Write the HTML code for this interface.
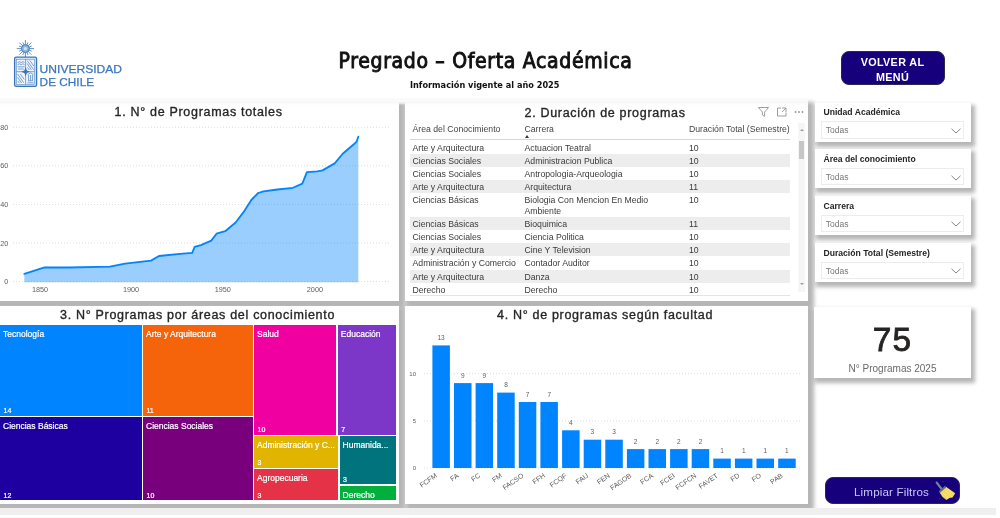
<!DOCTYPE html>
<html lang="es">
<head>
<meta charset="utf-8">
<title>Pregrado – Oferta Académica</title>
<style>
*{box-sizing:border-box;margin:0;padding:0}
html,body{width:1000px;height:518px;overflow:hidden;background:#fff}
body{position:relative;font-family:"Liberation Sans",sans-serif;color:#252423}
.abs{position:absolute}
.card{position:absolute;background:#fff;box-shadow:3.5px 4px 4px 2.5px rgba(0,0,0,.29)}/*#b8b8b8*/
.ttl{position:absolute;font-size:12.5px;color:#252423;white-space:nowrap;line-height:14px;letter-spacing:.69px;-webkit-text-stroke:.35px #2a2928}
.t{position:absolute;white-space:nowrap}
svg{position:absolute;left:0;top:0;overflow:visible}
svg text{font-family:"Liberation Sans",sans-serif}
.tb{position:absolute;font-size:8.7px;line-height:11px;color:#3a3a3a;white-space:nowrap}
.tm{position:absolute;color:#fff;font-size:8.5px;line-height:10px;-webkit-text-stroke:.2px #fff;white-space:nowrap;overflow:hidden}
.tm b{position:absolute;left:3.5px;bottom:.5px;font-weight:normal;font-size:7px;line-height:8px}
.tm span{position:absolute;left:3px;top:4px}
.sl{position:absolute;background:#fff;box-shadow:2.5px 3.5px 4px 1.5px rgba(0,0,0,.29);/*#b8b8b8*/left:815px;width:155.6px;height:39px}
.sl .h{position:absolute;left:8.5px;top:4.5px;font-size:8.6px;line-height:10px;color:#252423;font-weight:bold;white-space:nowrap}
.sl .d{position:absolute;left:6.3px;top:18.8px;width:143px;height:17.4px;border:1px solid #ececec;font-size:8.5px;line-height:16px;padding-left:3.5px;color:#777}
.sl svg{left:135.5px;top:25.3px}
</style>
</head>
<body>

<svg width="140" height="100" viewBox="0 0 140 100">
<g stroke="#3a76bc" stroke-width="1" opacity=".8"><line x1="29.60" y1="48.60" x2="34.00" y2="48.60"/><line x1="29.28" y1="50.21" x2="31.68" y2="51.20"/><line x1="28.37" y1="51.57" x2="31.48" y2="54.68"/><line x1="27.01" y1="52.48" x2="28.00" y2="54.88"/><line x1="25.40" y1="52.80" x2="25.40" y2="57.20"/><line x1="23.79" y1="52.48" x2="22.80" y2="54.88"/><line x1="22.43" y1="51.57" x2="19.32" y2="54.68"/><line x1="21.52" y1="50.21" x2="19.12" y2="51.20"/><line x1="21.20" y1="48.60" x2="16.80" y2="48.60"/><line x1="21.52" y1="46.99" x2="19.12" y2="46.00"/><line x1="22.43" y1="45.63" x2="19.32" y2="42.52"/><line x1="23.79" y1="44.72" x2="22.80" y2="42.32"/><line x1="25.40" y1="44.40" x2="25.40" y2="40.00"/><line x1="27.01" y1="44.72" x2="28.00" y2="42.32"/><line x1="28.37" y1="45.63" x2="31.48" y2="42.52"/><line x1="29.28" y1="46.99" x2="31.68" y2="46.00"/></g>
<circle cx="25.4" cy="48.6" r="4" fill="#8fb4dc" stroke="#3a76bc" stroke-width="1"/>
<circle cx="25.4" cy="48.6" r="1.6" fill="#d5e3f2"/>
<rect x="14.6" y="57.1" width="22" height="29.3" rx="1.6" fill="#d3e2f2" stroke="#3a76bc" stroke-width="1.3"/>
<rect x="16.7" y="59.3" width="17.8" height="25" fill="#f4f8fc" stroke="#3a76bc" stroke-width=".5" opacity=".9"/>
<g stroke="#3a76bc" stroke-width=".8" fill="none" opacity=".85"><path d="M25.6 59.3 V84.3 M16.7 71.7 H34.5"/><path d="M17.6 62.5 q2 -1.6 3.6 0 q1.6 -1.6 3.4 0 M17.6 64.6 q2 -1.6 3.6 0 q1.6 -1.6 3.4 0 M17.6 66.8 h7 M18.2 69 h5.6"/><path d="M27.2 60.6 L33.6 69.6 M29.8 60.4 L33.8 66 M27 63.4 L31.4 69.8 M27.4 67.4 l2 2.6"/><path d="M17.6 74 L23.6 82.6 M17.6 77.4 L21.6 83 M20.2 73.8 L24.2 79.4 M17.8 81 l1.6 2.2"/><path d="M27.4 82.8 h6.2 M28 80.8 h5 M28.6 75 v5.6 M30.6 75 v5.6 M32.6 75 v5.6 M27.6 74.6 l3 -1.8 l3 1.8"/></g>
<path d="M25.6 67.2 l1.3 3.2 l3.2 1.3 l-3.2 1.3 l-1.3 3.2 l-1.3 -3.2 l-3.2 -1.3 l3.2 -1.3 z" fill="#3a76bc"/>
<text x="39.6" y="73.2" font-size="11.6" fill="#3a76bc" stroke="#3a76bc" stroke-width=".25" textLength="82.5" lengthAdjust="spacingAndGlyphs">UNIVERSIDAD</text>
<text x="39.6" y="85.6" font-size="11.6" fill="#3a76bc" stroke="#3a76bc" stroke-width=".25" textLength="54.5" lengthAdjust="spacingAndGlyphs">DE CHILE</text>
</svg>
<div class="t" id="maintitle" style="left:338.5px;top:46.5px;font-family:'DejaVu Sans Condensed','DejaVu Sans',sans-serif;font-size:21px;line-height:28px;color:#111;-webkit-text-stroke:.9px #111;letter-spacing:.67px">Pregrado – Oferta Académica</div>
<div class="t" id="subtitle" style="left:410px;top:78.5px;font-family:'DejaVu Sans Condensed','DejaVu Sans',sans-serif;font-weight:bold;font-size:9.1px;line-height:12px;color:#111">Información vigente al año 2025</div>
<div class="abs" id="btn1" style="left:840.5px;top:50.5px;width:104px;height:34.5px;background:#17007b;border:1px solid #2a2a48;border-radius:8px;color:#fff;font-weight:bold;font-size:10.8px;line-height:14.4px;text-align:center;padding-top:3.7px;letter-spacing:.35px">VOLVER AL<br>MENÚ</div>
<div class="abs" style="left:0;top:99.5px;width:808px;height:5px;background:linear-gradient(#fff 0%,#f6f6f6 35%,rgba(247,247,247,.75) 60%,rgba(255,255,255,0) 100%);z-index:5"></div>
<div class="card" id="c1" style="left:-10px;top:100px;width:408.5px;height:201px"></div>
<div class="ttl" id="t1" style="left:114.5px;top:105px">1. N° de Programas totales</div>
<svg width="400" height="300" viewBox="0 0 400 300">
<line x1="13" x2="391" y1="127.3" y2="127.3" stroke="#dcdcdc" stroke-width="1" stroke-dasharray="1 2"/>
<line x1="13" x2="391" y1="165.8" y2="165.8" stroke="#dcdcdc" stroke-width="1" stroke-dasharray="1 2"/>
<line x1="13" x2="391" y1="204.4" y2="204.4" stroke="#dcdcdc" stroke-width="1" stroke-dasharray="1 2"/>
<line x1="13" x2="391" y1="242.9" y2="242.9" stroke="#dcdcdc" stroke-width="1" stroke-dasharray="1 2"/>
<line x1="13" x2="391" y1="281.5" y2="281.5" stroke="#dcdcdc" stroke-width="1" stroke-dasharray="1 2"/>
<polygon points="24.3,273.8 44.5,267.3 69.4,267.5 110.0,266.6 125.0,263.6 151.0,260.6 159.0,256.0 180.0,253.8 192.2,252.8 194.6,246.9 200.9,245.1 211.3,240.6 216.5,233.7 225.2,231.2 235.6,222.5 244.3,211.1 251.3,200.0 258.2,193.0 263.4,191.3 277.3,189.5 293.0,187.8 302.3,183.6 306.9,172.1 317.3,171.4 322.5,170.4 334.7,163.4 342.7,153.7 353.8,144.3 356.6,141.6 358.3,136.7 358.3,282.3 24.3,282.3" fill="#0084ff" fill-opacity=".4"/>
<polyline points="24.3,273.8 44.5,267.3 69.4,267.5 110.0,266.6 125.0,263.6 151.0,260.6 159.0,256.0 180.0,253.8 192.2,252.8 194.6,246.9 200.9,245.1 211.3,240.6 216.5,233.7 225.2,231.2 235.6,222.5 244.3,211.1 251.3,200.0 258.2,193.0 263.4,191.3 277.3,189.5 293.0,187.8 302.3,183.6 306.9,172.1 317.3,171.4 322.5,170.4 334.7,163.4 342.7,153.7 353.8,144.3 356.6,141.6 358.3,136.7" fill="none" stroke="#0084ff" stroke-width="1.8" stroke-linejoin="round" stroke-linecap="round"/>
<text x="8.4" y="129.9" font-size="7.3" fill="#605e5c" text-anchor="end">80</text>
<text x="8.4" y="168.4" font-size="7.3" fill="#605e5c" text-anchor="end">60</text>
<text x="8.4" y="207.0" font-size="7.3" fill="#605e5c" text-anchor="end">40</text>
<text x="8.4" y="245.5" font-size="7.3" fill="#605e5c" text-anchor="end">20</text>
<text x="8.4" y="284.1" font-size="7.3" fill="#605e5c" text-anchor="end">0</text>
<text x="40.0" y="291.8" font-size="7.3" fill="#605e5c" text-anchor="middle">1850</text>
<text x="131.0" y="291.8" font-size="7.3" fill="#605e5c" text-anchor="middle">1900</text>
<text x="222.8" y="291.8" font-size="7.3" fill="#605e5c" text-anchor="middle">1950</text>
<text x="314.9" y="291.8" font-size="7.3" fill="#605e5c" text-anchor="middle">2000</text>
</svg>
<div class="card" id="c2" style="left:404.5px;top:100px;width:403px;height:201px"></div>
<div class="ttl" id="t2" style="left:524.5px;top:106px">2. Duración de programas</div>
<svg width="1000" height="140" viewBox="0 0 1000 140"><g fill="none" stroke="#939393" stroke-width=".9"><path d="M758.5 107.5 h10 l-3.9 4.6 v4.2 l-2.2 -1.3 v-2.9 z"/><path d="M781 108 h-3.5 v8 h8.5 v-3.5 M782 108 h4 v4 M786 108 l-4 4"/></g><g fill="#939393"><circle cx="795.5" cy="112" r=".9"/><circle cx="799" cy="112" r=".9"/><circle cx="802.5" cy="112" r=".9"/></g></svg>
<div class="tb" style="left:412.5px;top:123.5px;color:#444">Área del Conocimiento</div>
<div class="tb" style="left:524.5px;top:123.5px;color:#444">Carrera</div>
<div class="tb" style="left:689px;top:123.5px;color:#444">Duración Total (Semestre)</div>
<div class="abs" style="left:525px;top:134.5px;width:0;height:0;border-left:2.5px solid transparent;border-right:2.5px solid transparent;border-bottom:3px solid #333"></div>
<div class="abs" style="left:409.5px;top:138.7px;width:380px;height:1.6px;background:#bcdcfa"></div>
<div class="tb" style="left:412.5px;top:142.9px">Arte y Arquitectura</div>
<div class="tb" style="left:524.5px;top:142.9px">Actuacion Teatral</div>
<div class="tb" style="left:689px;top:142.9px">10</div>
<div class="abs" style="left:409.5px;top:154.1px;width:380px;height:13.1px;background:#ededed"></div>
<div class="tb" style="left:412.5px;top:156.0px">Ciencias Sociales</div>
<div class="tb" style="left:524.5px;top:156.0px">Administracion Publica</div>
<div class="tb" style="left:689px;top:156.0px">10</div>
<div class="tb" style="left:412.5px;top:169.1px">Ciencias Sociales</div>
<div class="tb" style="left:524.5px;top:169.1px">Antropologia-Arqueologia</div>
<div class="tb" style="left:689px;top:169.1px">10</div>
<div class="abs" style="left:409.5px;top:180.3px;width:380px;height:13.1px;background:#ededed"></div>
<div class="tb" style="left:412.5px;top:182.2px">Arte y Arquitectura</div>
<div class="tb" style="left:524.5px;top:182.2px">Arquitectura</div>
<div class="tb" style="left:689px;top:182.2px">11</div>
<div class="tb" style="left:412.5px;top:195.3px">Ciencias Básicas</div>
<div class="tb" style="left:524.5px;top:195.3px">Biologia Con Mencion En Medio<br>Ambiente</div>
<div class="tb" style="left:689px;top:195.3px">10</div>
<div class="abs" style="left:409.5px;top:217.2px;width:380px;height:13.1px;background:#ededed"></div>
<div class="tb" style="left:412.5px;top:219.1px">Ciencias Básicas</div>
<div class="tb" style="left:524.5px;top:219.1px">Bioquimica</div>
<div class="tb" style="left:689px;top:219.1px">11</div>
<div class="tb" style="left:412.5px;top:232.2px">Ciencias Sociales</div>
<div class="tb" style="left:524.5px;top:232.2px">Ciencia Politica</div>
<div class="tb" style="left:689px;top:232.2px">10</div>
<div class="abs" style="left:409.5px;top:243.4px;width:380px;height:13.1px;background:#ededed"></div>
<div class="tb" style="left:412.5px;top:245.3px">Arte y Arquitectura</div>
<div class="tb" style="left:524.5px;top:245.3px">Cine Y Television</div>
<div class="tb" style="left:689px;top:245.3px">10</div>
<div class="tb" style="left:412.5px;top:258.4px">Administración y Comercio</div>
<div class="tb" style="left:524.5px;top:258.4px">Contador Auditor</div>
<div class="tb" style="left:689px;top:258.4px">10</div>
<div class="abs" style="left:409.5px;top:269.6px;width:380px;height:13.1px;background:#ededed"></div>
<div class="tb" style="left:412.5px;top:271.5px">Arte y Arquitectura</div>
<div class="tb" style="left:524.5px;top:271.5px">Danza</div>
<div class="tb" style="left:689px;top:271.5px">10</div>
<div class="tb" style="left:412.5px;top:284.6px">Derecho</div>
<div class="tb" style="left:524.5px;top:284.6px">Derecho</div>
<div class="tb" style="left:689px;top:284.6px">10</div>
<div class="abs" style="left:409.5px;top:295px;width:380px;height:1px;background:#e4e4e4"></div>
<div class="abs" style="left:798.3px;top:123px;width:6.3px;height:169px;background:#f6f6f6"></div>
<div class="abs" style="left:799.2px;top:140.5px;width:4.6px;height:18px;background:#c6c6c6"></div>
<div class="abs" style="left:799.5px;top:129px;width:0;height:0;border-left:2px solid transparent;border-right:2px solid transparent;border-bottom:2.5px solid #9a9a9a"></div>
<div class="abs" style="left:799.5px;top:283px;width:0;height:0;border-left:2px solid transparent;border-right:2px solid transparent;border-top:2.5px solid #9a9a9a"></div>
<div class="card" id="c3" style="left:-10px;top:305.5px;width:408.5px;height:198px"></div>
<div class="ttl" id="t3" style="left:60px;top:308px">3. N° Programas por áreas del conocimiento</div>
<div class="tm" style="left:0.0px;top:325.0px;width:141.6px;height:90.8px;background:#0084ff"><span>Tecnología</span><b>14</b></div>
<div class="tm" style="left:143.0px;top:325.0px;width:109.6px;height:90.8px;background:#f5640a"><span>Arte y Arquitectura</span><b>11</b></div>
<div class="tm" style="left:0.0px;top:417.2px;width:141.6px;height:83.2px;background:#1e00a0"><span>Ciencias Básicas</span><b>12</b></div>
<div class="tm" style="left:143.0px;top:417.2px;width:109.6px;height:83.2px;background:#78007d"><span>Ciencias Sociales</span><b>10</b></div>
<div class="tm" style="left:254.0px;top:325.0px;width:82.3px;height:109.8px;background:#f000a0"><span>Salud</span><b>10</b></div>
<div class="tm" style="left:337.8px;top:325.0px;width:58.2px;height:109.8px;background:#7d37c8"><span>Educación</span><b>7</b></div>
<div class="tm" style="left:254.0px;top:436.3px;width:84.0px;height:31.7px;background:#e1b400"><span>Administración y C...</span><b>3</b></div>
<div class="tm" style="left:254.0px;top:469.3px;width:84.0px;height:31.1px;background:#e63246"><span>Agropecuaria</span><b>3</b></div>
<div class="tm" style="left:339.6px;top:436.3px;width:56.4px;height:47.9px;background:#00737d"><span>Humanida...</span><b>3</b></div>
<div class="tm" style="left:339.6px;top:485.5px;width:56.4px;height:14.9px;background:#00af3c"><span>Derecho</span><b></b></div>
<div class="card" id="c4" style="left:404.5px;top:305.5px;width:403px;height:198px"></div>
<div class="ttl" id="t4" style="left:497px;top:308px">4. N° de programas según facultad</div>
<svg width="1000" height="518" viewBox="0 0 1000 518">
<line x1="424" x2="800" y1="468.0" y2="468.0" stroke="#dcdcdc" stroke-width="1" stroke-dasharray="1 2"/>
<text x="416" y="470.2" font-size="6" fill="#605e5c" text-anchor="end">0</text>
<line x1="424" x2="800" y1="420.9" y2="420.9" stroke="#dcdcdc" stroke-width="1" stroke-dasharray="1 2"/>
<text x="416" y="423.1" font-size="6" fill="#605e5c" text-anchor="end">5</text>
<line x1="424" x2="800" y1="373.7" y2="373.7" stroke="#dcdcdc" stroke-width="1" stroke-dasharray="1 2"/>
<text x="416" y="375.9" font-size="6" fill="#605e5c" text-anchor="end">10</text>
<rect x="432.4" y="345.4" width="17.5" height="122.6" fill="#0084ff"/>
<text x="441.1" y="339.9" font-size="6.5" fill="#605e5c" text-anchor="middle">13</text>
<text transform="translate(437.6,476.7) rotate(-35)" font-size="7" fill="#605e5c" text-anchor="end">FCFM</text>
<rect x="454.0" y="383.1" width="17.5" height="84.9" fill="#0084ff"/>
<text x="462.8" y="377.6" font-size="6.5" fill="#605e5c" text-anchor="middle">9</text>
<text transform="translate(459.3,476.7) rotate(-35)" font-size="7" fill="#605e5c" text-anchor="end">FA</text>
<rect x="475.6" y="383.1" width="17.5" height="84.9" fill="#0084ff"/>
<text x="484.4" y="377.6" font-size="6.5" fill="#605e5c" text-anchor="middle">9</text>
<text transform="translate(480.9,476.7) rotate(-35)" font-size="7" fill="#605e5c" text-anchor="end">FC</text>
<rect x="497.2" y="392.6" width="17.5" height="75.4" fill="#0084ff"/>
<text x="506.0" y="387.1" font-size="6.5" fill="#605e5c" text-anchor="middle">8</text>
<text transform="translate(502.5,476.7) rotate(-35)" font-size="7" fill="#605e5c" text-anchor="end">FM</text>
<rect x="518.8" y="402.0" width="17.5" height="66.0" fill="#0084ff"/>
<text x="527.6" y="396.5" font-size="6.5" fill="#605e5c" text-anchor="middle">7</text>
<text transform="translate(524.1,476.7) rotate(-35)" font-size="7" fill="#605e5c" text-anchor="end">FACSO</text>
<rect x="540.4" y="402.0" width="17.5" height="66.0" fill="#0084ff"/>
<text x="549.2" y="396.5" font-size="6.5" fill="#605e5c" text-anchor="middle">7</text>
<text transform="translate(545.7,476.7) rotate(-35)" font-size="7" fill="#605e5c" text-anchor="end">FFH</text>
<rect x="562.1" y="430.3" width="17.5" height="37.7" fill="#0084ff"/>
<text x="570.8" y="424.8" font-size="6.5" fill="#605e5c" text-anchor="middle">4</text>
<text transform="translate(567.3,476.7) rotate(-35)" font-size="7" fill="#605e5c" text-anchor="end">FCQF</text>
<rect x="583.7" y="439.7" width="17.5" height="28.3" fill="#0084ff"/>
<text x="592.4" y="434.2" font-size="6.5" fill="#605e5c" text-anchor="middle">3</text>
<text transform="translate(588.9,476.7) rotate(-35)" font-size="7" fill="#605e5c" text-anchor="end">FAU</text>
<rect x="605.3" y="439.7" width="17.5" height="28.3" fill="#0084ff"/>
<text x="614.0" y="434.2" font-size="6.5" fill="#605e5c" text-anchor="middle">3</text>
<text transform="translate(610.5,476.7) rotate(-35)" font-size="7" fill="#605e5c" text-anchor="end">FEN</text>
<rect x="626.9" y="449.1" width="17.5" height="18.9" fill="#0084ff"/>
<text x="635.6" y="443.6" font-size="6.5" fill="#605e5c" text-anchor="middle">2</text>
<text transform="translate(632.1,476.7) rotate(-35)" font-size="7" fill="#605e5c" text-anchor="end">FAGOB</text>
<rect x="648.5" y="449.1" width="17.5" height="18.9" fill="#0084ff"/>
<text x="657.2" y="443.6" font-size="6.5" fill="#605e5c" text-anchor="middle">2</text>
<text transform="translate(653.8,476.7) rotate(-35)" font-size="7" fill="#605e5c" text-anchor="end">FCA</text>
<rect x="670.1" y="449.1" width="17.5" height="18.9" fill="#0084ff"/>
<text x="678.9" y="443.6" font-size="6.5" fill="#605e5c" text-anchor="middle">2</text>
<text transform="translate(675.4,476.7) rotate(-35)" font-size="7" fill="#605e5c" text-anchor="end">FCEI</text>
<rect x="691.7" y="449.1" width="17.5" height="18.9" fill="#0084ff"/>
<text x="700.5" y="443.6" font-size="6.5" fill="#605e5c" text-anchor="middle">2</text>
<text transform="translate(697.0,476.7) rotate(-35)" font-size="7" fill="#605e5c" text-anchor="end">FCFCN</text>
<rect x="713.3" y="458.6" width="17.5" height="9.4" fill="#0084ff"/>
<text x="722.1" y="453.1" font-size="6.5" fill="#605e5c" text-anchor="middle">1</text>
<text transform="translate(718.6,476.7) rotate(-35)" font-size="7" fill="#605e5c" text-anchor="end">FAVET</text>
<rect x="734.9" y="458.6" width="17.5" height="9.4" fill="#0084ff"/>
<text x="743.7" y="453.1" font-size="6.5" fill="#605e5c" text-anchor="middle">1</text>
<text transform="translate(740.2,476.7) rotate(-35)" font-size="7" fill="#605e5c" text-anchor="end">FD</text>
<rect x="756.5" y="458.6" width="17.5" height="9.4" fill="#0084ff"/>
<text x="765.3" y="453.1" font-size="6.5" fill="#605e5c" text-anchor="middle">1</text>
<text transform="translate(761.8,476.7) rotate(-35)" font-size="7" fill="#605e5c" text-anchor="end">FO</text>
<rect x="778.2" y="458.6" width="17.5" height="9.4" fill="#0084ff"/>
<text x="786.9" y="453.1" font-size="6.5" fill="#605e5c" text-anchor="middle">1</text>
<text transform="translate(783.4,476.7) rotate(-35)" font-size="7" fill="#605e5c" text-anchor="end">PAB</text>
</svg>
<div class="sl" style="top:102.5px"><div class="h">Unidad Académica</div><div class="d">Todas</div><svg width="10" height="6" viewBox="0 0 10 6"><path d="M.5 .8 L5 5 L9.5 .8" fill="none" stroke="#777" stroke-width=".9"/></svg></div>
<div class="sl" style="top:149.3px"><div class="h">Área del conocimiento</div><div class="d">Todas</div><svg width="10" height="6" viewBox="0 0 10 6"><path d="M.5 .8 L5 5 L9.5 .8" fill="none" stroke="#777" stroke-width=".9"/></svg></div>
<div class="sl" style="top:196.2px"><div class="h">Carrera</div><div class="d">Todas</div><svg width="10" height="6" viewBox="0 0 10 6"><path d="M.5 .8 L5 5 L9.5 .8" fill="none" stroke="#777" stroke-width=".9"/></svg></div>
<div class="sl" style="top:243.0px"><div class="h">Duración Total (Semestre)</div><div class="d">Todas</div><svg width="10" height="6" viewBox="0 0 10 6"><path d="M.5 .8 L5 5 L9.5 .8" fill="none" stroke="#777" stroke-width=".9"/></svg></div>
<div class="sl" style="top:306.5px;height:71.5px;width:157px;left:814px"></div>
<div class="t" id="big" style="left:814px;width:157px;text-align:center;top:320px;font-size:33.5px;line-height:40px;color:#252423;letter-spacing:1px;-webkit-text-stroke:.8px #252423">75</div>
<div class="t" id="biglab" style="left:814px;width:157px;text-align:center;top:362.5px;font-size:10px;line-height:11px;color:#6a6a6a">N° Programas 2025</div>
<div class="abs" id="btn2" style="left:825px;top:477.3px;width:134.7px;height:26.4px;background:#17007b;border:1px solid #2a2a48;border-radius:8px"></div>
<div class="t" id="btn2t" style="left:854px;top:484.5px;font-size:11.6px;letter-spacing:.15px;line-height:14px;color:#c9c6ff">Limpiar Filtros</div>
<svg width="1000" height="518" viewBox="0 0 1000 518"><path d="M936.7 482.6 L942.4 490" stroke="#70819a" stroke-width="2.3" stroke-linecap="round"/><path d="M939.6 492.4 L946 486.8 L955.2 493.2 L952.6 497.4 L949.4 498 L946.4 500 Q942 497.4 939.6 492.4 Z" fill="#f2d95e"/><path d="M943 492.5 L948.5 498.3 M945.5 490.5 L951.8 496.8 M947.6 489 L953.8 494.6" stroke="#f9eca0" stroke-width=".7" fill="none"/><path d="M939.4 491.9 L945.6 486.5" stroke="#5c6d88" stroke-width="2"/><g fill="#2b3a6a"><circle cx="943" cy="481.6" r=".7"/><circle cx="956" cy="498.6" r=".7"/><circle cx="940" cy="498.6" r=".7"/></g></svg>
<div class="abs" style="left:0;top:508px;width:996px;height:7px;background:#f0efee"></div>
</body>
</html>
